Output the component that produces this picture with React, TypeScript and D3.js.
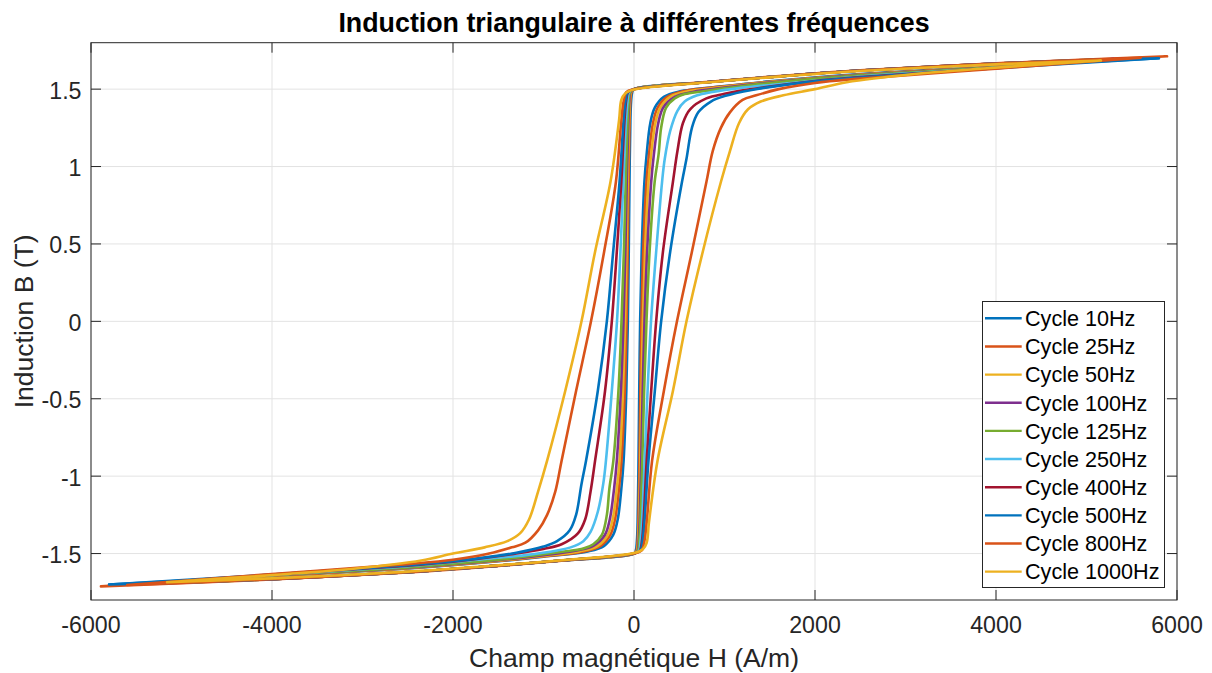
import React from 'react';
import * as d3 from 'd3';

type P = [number, number];

// Ascending branches (H in A/m, B in T)
const asc10: P[] = [[-5800,-1.700],[-4000,-1.665],[-2500,-1.620],[-1500,-1.578],[-800,-1.545],[0,-1.500],[20,-1.480],[32,-1.420],[40,-1.300],[50,-0.900],[58,-0.450],[68,0],[85,0.450],[115,0.900],[140,1.080],[180,1.280],[230,1.380],[330,1.450],[500,1.485],[1000,1.520],[1500,1.550],[2500,1.597],[4000,1.645],[5800,1.700]];
const asc25: P[] = [[-5890,-1.712],[-4000,-1.667],[-2500,-1.622],[-1500,-1.580],[-800,-1.546],[0,-1.500],[28,-1.480],[40,-1.420],[48,-1.300],[60,-0.900],[70,-0.450],[82,0],[102,0.450],[138,0.900],[166,1.080],[210,1.280],[262,1.380],[368,1.450],[560,1.488],[1000,1.518],[1500,1.548],[2500,1.595],[4000,1.645],[5890,1.712]];
const asc50: P[] = [[-5000,-1.687],[-4000,-1.665],[-2500,-1.620],[-1500,-1.578],[-800,-1.545],[0,-1.500],[34,-1.480],[46,-1.420],[55,-1.300],[70,-0.900],[83,-0.450],[98,0],[122,0.450],[160,0.900],[190,1.080],[236,1.280],[290,1.380],[400,1.450],[600,1.486],[1000,1.515],[1500,1.546],[2500,1.593],[4000,1.643],[5000,1.687]];
const asc100: P[] = [[-5300,-1.695],[-4000,-1.665],[-2500,-1.620],[-1500,-1.578],[-800,-1.545],[0,-1.500],[40,-1.480],[52,-1.420],[62,-1.300],[80,-0.900],[96,-0.450],[116,0],[145,0.450],[190,0.900],[220,1.080],[268,1.280],[322,1.380],[450,1.450],[650,1.482],[1000,1.510],[1500,1.543],[2500,1.591],[4000,1.642],[5300,1.695]];
const asc125: P[] = [[-5200,-1.692],[-4000,-1.665],[-2500,-1.620],[-1500,-1.578],[-800,-1.545],[0,-1.500],[45,-1.480],[58,-1.420],[70,-1.300],[92,-0.900],[112,-0.450],[138,0],[172,0.450],[228,0.900],[272,1.080],[300,1.250],[355,1.380],[450,1.440],[560,1.468],[750,1.485],[1000,1.505],[1500,1.540],[2500,1.589],[4000,1.641],[5200,1.692]];
const asc250: P[] = [[-5000,-1.687],[-4000,-1.665],[-2500,-1.620],[-1500,-1.578],[-800,-1.545],[0,-1.500],[55,-1.480],[72,-1.420],[88,-1.300],[118,-0.900],[150,-0.450],[188,0],[245,0.450],[310,0.900],[340,1.050],[400,1.230],[480,1.360],[560,1.420],[700,1.460],[850,1.480],[1200,1.510],[1600,1.532],[2500,1.582],[4000,1.638],[5000,1.687]];
const asc400: P[] = [[-5470,-1.697],[-4000,-1.665],[-2500,-1.620],[-1500,-1.578],[-800,-1.545],[0,-1.500],[65,-1.480],[88,-1.420],[105,-1.300],[140,-0.900],[190,-0.450],[245,0],[320,0.450],[430,0.900],[480,1.100],[540,1.280],[620,1.370],[800,1.440],[1000,1.470],[1300,1.500],[2000,1.553],[2500,1.578],[4000,1.636],[5470,1.697]];
const asc500: P[] = [[-5800,-1.700],[-4000,-1.665],[-2500,-1.620],[-1500,-1.578],[-800,-1.545],[0,-1.500],[70,-1.480],[95,-1.420],[115,-1.300],[160,-0.900],[230,-0.450],[300,0],[400,0.450],[530,0.900],[580,1.050],[640,1.250],[710,1.350],[850,1.420],[1000,1.455],[1300,1.495],[2000,1.550],[2500,1.575],[4000,1.635],[5800,1.700]];
const asc800: P[] = [[-5600,-1.703],[-4000,-1.665],[-2500,-1.620],[-1500,-1.578],[-800,-1.545],[0,-1.500],[85,-1.480],[115,-1.420],[140,-1.300],[200,-0.900],[330,-0.450],[475,0],[640,0.450],[800,0.900],[870,1.100],[960,1.250],[1060,1.350],[1200,1.430],[1350,1.460],[1600,1.500],[2000,1.540],[2500,1.568],[4000,1.632],[5600,1.703]];
const asc1000: P[] = [[-5160,-1.685],[-4000,-1.660],[-2500,-1.617],[-1500,-1.576],[-800,-1.543],[0,-1.497],[100,-1.470],[140,-1.430],[165,-1.300],[260,-0.900],[430,-0.450],[580,0],[760,0.450],[960,0.900],[1060,1.100],[1160,1.280],[1260,1.370],[1400,1.420],[1650,1.460],[2000,1.500],[2350,1.545],[3100,1.598],[3900,1.635],[5160,1.685]];

// Descending branches
const desc10: P[] = [[5800,1.700],[4000,1.665],[2500,1.620],[1500,1.578],[800,1.545],[0,1.500],[-20,1.480],[-32,1.420],[-40,1.300],[-50,0.900],[-58,0.450],[-68,0],[-85,-0.450],[-115,-0.900],[-140,-1.080],[-180,-1.280],[-230,-1.380],[-330,-1.450],[-500,-1.485],[-1000,-1.520],[-1500,-1.550],[-2500,-1.597],[-4000,-1.645],[-5800,-1.700]];
const desc25: P[] = [[5890,1.712],[4000,1.667],[2500,1.622],[1500,1.580],[800,1.546],[0,1.500],[-28,1.480],[-40,1.420],[-48,1.300],[-60,0.900],[-70,0.450],[-82,0],[-102,-0.450],[-138,-0.900],[-166,-1.080],[-210,-1.280],[-262,-1.380],[-368,-1.450],[-560,-1.488],[-1000,-1.518],[-1500,-1.548],[-2500,-1.595],[-4000,-1.645],[-5890,-1.712]];
const desc50: P[] = [[5000,1.687],[4000,1.665],[2500,1.620],[1500,1.578],[800,1.545],[0,1.500],[-34,1.480],[-46,1.420],[-55,1.300],[-70,0.900],[-83,0.450],[-98,0],[-122,-0.450],[-160,-0.900],[-190,-1.080],[-236,-1.280],[-290,-1.380],[-400,-1.450],[-600,-1.486],[-1000,-1.515],[-1500,-1.546],[-2500,-1.593],[-4000,-1.643],[-5000,-1.687]];
const desc100: P[] = [[5300,1.695],[4000,1.665],[2500,1.620],[1500,1.578],[800,1.545],[0,1.500],[-40,1.480],[-52,1.420],[-62,1.300],[-80,0.900],[-96,0.450],[-116,0],[-145,-0.450],[-190,-0.900],[-220,-1.080],[-268,-1.280],[-322,-1.380],[-450,-1.450],[-650,-1.482],[-1000,-1.510],[-1500,-1.543],[-2500,-1.591],[-4000,-1.642],[-5300,-1.695]];
const desc125: P[] = [[5200,1.692],[4000,1.665],[2500,1.620],[1500,1.578],[800,1.545],[0,1.500],[-45,1.480],[-58,1.420],[-70,1.300],[-92,0.900],[-112,0.450],[-138,0],[-172,-0.450],[-228,-0.900],[-272,-1.080],[-300,-1.250],[-355,-1.380],[-450,-1.440],[-560,-1.468],[-750,-1.485],[-1000,-1.505],[-1500,-1.540],[-2500,-1.589],[-4000,-1.641],[-5200,-1.692]];
const desc250: P[] = [[5000,1.687],[4000,1.665],[2500,1.620],[1500,1.578],[800,1.545],[0,1.500],[-55,1.480],[-72,1.420],[-88,1.300],[-118,0.900],[-150,0.450],[-188,0],[-245,-0.450],[-310,-0.900],[-340,-1.050],[-400,-1.230],[-480,-1.360],[-560,-1.420],[-700,-1.460],[-850,-1.480],[-1200,-1.510],[-1600,-1.532],[-2500,-1.582],[-4000,-1.638],[-5000,-1.687]];
const desc400: P[] = [[5470,1.697],[4000,1.665],[2500,1.620],[1500,1.578],[800,1.545],[0,1.500],[-65,1.480],[-88,1.420],[-105,1.300],[-140,0.900],[-190,0.450],[-245,0],[-320,-0.450],[-430,-0.900],[-480,-1.100],[-540,-1.280],[-620,-1.370],[-800,-1.440],[-1000,-1.470],[-1300,-1.500],[-2000,-1.553],[-2500,-1.578],[-4000,-1.636],[-5470,-1.697]];
const desc500: P[] = [[5800,1.700],[4000,1.665],[2500,1.620],[1500,1.578],[800,1.545],[0,1.500],[-70,1.480],[-95,1.420],[-115,1.300],[-160,0.900],[-230,0.450],[-300,0],[-400,-0.450],[-530,-0.900],[-580,-1.050],[-640,-1.250],[-710,-1.350],[-850,-1.420],[-1000,-1.455],[-1300,-1.495],[-2000,-1.550],[-2500,-1.575],[-4000,-1.635],[-5800,-1.700]];
const desc800: P[] = [[5600,1.703],[4000,1.665],[2500,1.620],[1500,1.578],[800,1.545],[0,1.500],[-85,1.480],[-115,1.420],[-140,1.300],[-200,0.900],[-330,0.450],[-475,0],[-640,-0.450],[-800,-0.900],[-870,-1.100],[-960,-1.250],[-1060,-1.350],[-1200,-1.430],[-1350,-1.460],[-1600,-1.500],[-2000,-1.540],[-2500,-1.568],[-4000,-1.632],[-5600,-1.703]];
const desc1000: P[] = [[5160,1.685],[4000,1.660],[2500,1.617],[1500,1.576],[800,1.543],[0,1.497],[-100,1.470],[-140,1.430],[-165,1.300],[-260,0.900],[-430,0.450],[-580,0],[-760,-0.450],[-960,-0.900],[-1060,-1.100],[-1160,-1.280],[-1260,-1.370],[-1400,-1.420],[-1650,-1.460],[-2000,-1.500],[-2350,-1.545],[-3100,-1.598],[-3900,-1.635],[-5160,-1.685]];

const legendNames = ['Cycle 10Hz','Cycle 25Hz','Cycle 50Hz','Cycle 100Hz','Cycle 125Hz','Cycle 250Hz','Cycle 400Hz','Cycle 500Hz','Cycle 800Hz','Cycle 1000Hz'];
const colors = ['#0072BD','#D95319','#EDB120','#7E2F8E','#77AC30','#4DBEEE','#A2142F','#0072BD','#D95319','#EDB120'];
const ascBranches = [asc10, asc25, asc50, asc100, asc125, asc250, asc400, asc500, asc800, asc1000];
const descBranches = [desc10, desc25, desc50, desc100, desc125, desc250, desc400, desc500, desc800, desc1000];

const xTicks = [-6000, -4000, -2000, 0, 2000, 4000, 6000];
const xTickLabels = ['-6000', '-4000', '-2000', '0', '2000', '4000', '6000'];
const yTicks = [-1.5, -1, -0.5, 0, 0.5, 1, 1.5];
const yTickLabels = ['-1.5', '-1', '-0.5', '0', '0.5', '1', '1.5'];

const titleText = 'Induction triangulaire à différentes fréquences';
const xLabel = 'Champ magnétique H (A/m)';
const yLabel = 'Induction B (T)';

export default function App() {
  const W = 1212, H = 673;
  const L = 91, R = 1177, T = 42.7, B = 600;
  const x = d3.scaleLinear().domain([-6000, 6000]).range([L, R]);
  const y = d3.scaleLinear().domain([-1.8, 1.8]).range([B, T]);
  const line = d3.line<P>().x(d => x(d[0])).y(d => y(d[1])).curve(d3.curveCatmullRom.alpha(0.5));
  const axisColor = '#262626';
  const font = '"Liberation Sans", Arial, Helvetica, sans-serif';
  const tickLen = 10;

  const legX = 982.5, legY = 301.5, legW = 182, legH = 286;
  const rowH = 28.15, row0 = 318.3;

  return (
    <svg width={W} height={H} style={{ position: 'absolute', left: 0, top: 0, background: '#fff' }} fontFamily={font}>
      <defs>
        <clipPath id="plotclip"><rect x={L} y={T} width={R - L} height={B - T} /></clipPath>
      </defs>
      <rect x={0} y={0} width={W} height={H} fill="#fff" />
      {/* grid */}
      <g stroke="#e3e3e3" strokeWidth={1}>
        {xTicks.map((t, i) => <line key={'gx' + i} x1={x(t)} x2={x(t)} y1={T} y2={B} />)}
        {yTicks.map((t, i) => <line key={'gy' + i} x1={L} x2={R} y1={y(t)} y2={y(t)} />)}
      </g>
      {/* curves */}
      <g clipPath="url(#plotclip)" fill="none" strokeWidth={2.6} strokeLinejoin="round" strokeLinecap="round">
        {ascBranches.map((a, i) => (
          <path key={'c' + i} d={line([...a, ...descBranches[i]]) || ''} stroke={colors[i]} />
        ))}
      </g>
      {/* frame and ticks */}
      <g stroke={axisColor} strokeWidth={1} fill="none">
        <rect x={L} y={T} width={R - L} height={B - T} />
        {xTicks.map((t, i) => (
          <g key={'tx' + i}>
            <line x1={x(t)} x2={x(t)} y1={B} y2={B - tickLen} />
            <line x1={x(t)} x2={x(t)} y1={T} y2={T + tickLen} />
          </g>
        ))}
        {yTicks.map((t, i) => (
          <g key={'ty' + i}>
            <line x1={L} x2={L + tickLen} y1={y(t)} y2={y(t)} />
            <line x1={R} x2={R - tickLen} y1={y(t)} y2={y(t)} />
          </g>
        ))}
      </g>
      {/* tick labels */}
      <g fill={axisColor} fontSize={23.2}>
        {xTicks.map((t, i) => (
          <text key={'lx' + i} x={x(t)} y={633.3} textAnchor="middle">{xTickLabels[i]}</text>
        ))}
        {yTicks.map((t, i) => (
          <text key={'ly' + i} x={81.5} y={y(t) + 9.5} textAnchor="end">{yTickLabels[i]}</text>
        ))}
      </g>
      {/* axis labels */}
      <text x={(L + R) / 2} y={667} textAnchor="middle" fontSize={26.5} fill={axisColor}>{xLabel}</text>
      <text transform={`translate(33,${(T + B) / 2}) rotate(-90)`} textAnchor="middle" fontSize={26.5} fill={axisColor}>{yLabel}</text>
      {/* title */}
      <text x={(L + R) / 2} y={32} textAnchor="middle" fontSize={26.8} fontWeight="bold" fill="#000">{titleText}</text>
      {/* legend */}
      <g>
        <rect x={legX} y={legY} width={legW} height={legH} fill="#fff" stroke={axisColor} strokeWidth={1} />
        {legendNames.map((n, i) => {
          const ly = row0 + i * rowH;
          return (
            <g key={'lg' + i}>
              <line x1={985} x2={1021.7} y1={ly} y2={ly} stroke={colors[i]} strokeWidth={2.4} />
              <text x={1025} y={ly + 7.8} fontSize={21.6} fill="#000">{n}</text>
            </g>
          );
        })}
      </g>
    </svg>
  );
}
